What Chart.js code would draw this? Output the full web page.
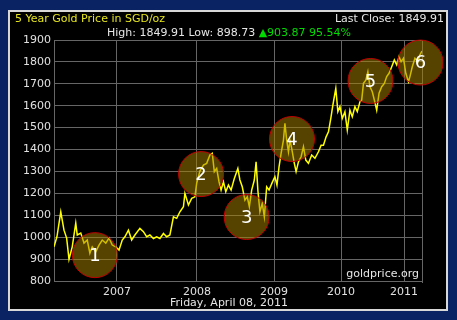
<!DOCTYPE html>
<html>
<head>
<meta charset="utf-8">
<script src="https://cdn.jsdelivr.net/npm/chart.js@4"></script>
<style>
	html, body { margin: 0; padding: 0; background: #0a2463; }
	#wrap { width: 457px; height: 320px; }
</style>
</head>
<body>
<div id="wrap"><canvas id="gold" width="457" height="320"></canvas></div>
<script>
// trading day index (from start of the 5 year window) and price in SGD/oz
const days = [0, 10, 23, 34, 43, 51, 62, 74, 79, 91, 102, 113, 122, 130, 142, 153, 164, 176, 187, 198,
	210, 221, 232, 241, 253, 264, 275, 292, 304, 315, 326, 338, 349, 360, 372, 383, 394, 406, 417, 428,
	440, 445, 457, 468, 479, 485, 496, 508, 519, 530, 538, 545, 553, 561, 568, 576, 584, 593, 602, 613,
	625, 632, 640, 649, 657, 664, 672, 681, 687, 693, 700, 708, 715, 723, 731, 742, 751, 758, 765, 772,
	780, 785, 791, 797, 802, 808, 817, 823, 831, 840, 848, 856, 865, 876, 887, 899, 908, 916, 925, 933,
	941, 948, 953, 958, 965, 972, 980, 989, 997, 1006, 1014, 1023, 1031, 1040, 1046, 1052, 1060, 1067, 1074, 1082,
	1089, 1097, 1105, 1114, 1123, 1131, 1139, 1148, 1157, 1165, 1173, 1180, 1188, 1196, 1205, 1210, 1218, 1227, 1237, 1244,
	1251];
const prices = [956, 1002, 1116, 1032, 996, 899, 956, 1064, 1010, 1019, 973, 987, 927, 956, 933, 964, 987, 973, 996, 964,
	956, 941, 987, 1002, 1032, 987, 1010, 1040, 1025, 1002, 1010, 994, 1002, 994, 1017, 1002, 1010, 1093, 1086, 1116,
	1139, 1200, 1147, 1177, 1184, 1246, 1302, 1329, 1337, 1375, 1383, 1299, 1314, 1253, 1215, 1253, 1207, 1238, 1215, 1268,
	1314, 1261, 1230, 1169, 1184, 1139, 1215, 1261, 1344, 1215, 1116, 1154, 1093, 1230, 1215, 1250, 1276, 1238, 1321, 1383,
	1443, 1520, 1443, 1390, 1443, 1405, 1337, 1299, 1344, 1367, 1413, 1352, 1337, 1375, 1360, 1390, 1420, 1420, 1458, 1481,
	1542, 1603, 1641, 1679, 1573, 1596, 1542, 1573, 1489, 1580, 1550, 1596, 1573, 1618, 1626, 1702, 1717, 1755, 1687, 1664,
	1626, 1580, 1657, 1687, 1702, 1733, 1748, 1778, 1809, 1786, 1824, 1801, 1817, 1748, 1710, 1733, 1778, 1817, 1801, 1832,
	1849.91];

const yearLabels = ['2007', '2008', '2009', '2010', '2011'];
const yearDays = [214, 486, 748, 976, 1190];

// numbered markers on the chart
const markerLabels = ['1', '2', '3', '4', '5', '6'];
const markerDays = [139, 500, 655, 809, 1076, 1246];
const markerPrices = [918, 1288, 1092, 1448, 1713, 1797];

const titleText = '5 Year Gold Price in SGD/oz';
const lastClose = 'Last Close: 1849.91';
const highLow = 'High: 1849.91 Low: 898.73 ';
const change = '\u25B2903.87 95.54%';
const dateText = 'Friday, April 08, 2011';
const sourceText = 'goldprice.org';

const FONT = '"DejaVu Sans", Verdana, sans-serif';

const frame = {
	id: 'frame',
	beforeDraw(chart) {
		const c = chart.ctx;
		c.save();
		c.fillStyle = '#0a2463';
		c.fillRect(0, 0, chart.width, chart.height);
		c.fillStyle = '#000';
		c.fillRect(8, 10, 440, 301);
		c.strokeStyle = '#d8d8d8';
		c.lineWidth = 2;
		c.strokeRect(9, 11, 438, 299);
		c.restore();
	},
	beforeDatasetsDraw(chart) {
		// plot border on the right side
		const c = chart.ctx;
		const a = chart.chartArea;
		c.save();
		c.strokeStyle = '#666';
		c.lineWidth = 1;
		c.beginPath();
		c.moveTo(Math.round(a.right) + 0.5, a.top);
		c.lineTo(Math.round(a.right) + 0.5, a.bottom + 2);
		c.stroke();
		c.restore();
	},
	afterDatasetsDraw(chart) {
		const c = chart.ctx;
		const meta = chart.getDatasetMeta(1);
		c.save();
		c.fillStyle = '#fff';
		c.font = '18px ' + FONT;
		c.textAlign = 'center';
		c.textBaseline = 'middle';
		meta.data.forEach(function (el, i) {
			c.fillText(markerLabels[i], el.x, el.y + 1);
		});
		c.restore();
	},
	afterDraw(chart) {
		const c = chart.ctx;
		const a = chart.chartArea;
		c.save();
		c.font = '11px ' + FONT;
		c.textBaseline = 'middle';
		c.textAlign = 'left';
		c.fillStyle = '#e6e61e';
		c.fillText(titleText, 15, 19);
		c.textAlign = 'right';
		c.fillStyle = '#e6e6e6';
		c.fillText(lastClose, 444, 19);

		const w1 = c.measureText(highLow).width;
		const w2 = c.measureText(change).width;
		let x0 = 229 - (w1 + w2) / 2;
		c.textAlign = 'left';
		c.fillStyle = '#e6e6e6';
		c.fillText(highLow, x0, 33);
		c.fillStyle = '#00dc00';
		c.fillText(change, x0 + w1, 33);

		c.textAlign = 'center';
		c.fillStyle = '#e6e6e6';
		c.fillText(dateText, 229, 303);

		c.textAlign = 'right';
		c.fillText(sourceText, a.right - 3, a.bottom - 7);
		c.restore();
	}
};

const ctx = document.getElementById('gold').getContext('2d');
const chart = new Chart(ctx, {
	type: 'line',
	data: {
		datasets: [
			{
				type: 'line',
				data: days.map(function (d, i) { return { x: d, y: prices[i] }; }),
				borderColor: '#ffff00',
				borderWidth: 1.5,
				pointRadius: 0,
				tension: 0,
				order: 1
			},
			{
				type: 'bubble',
				data: markerDays.map(function (d, i) { return { x: d, y: markerPrices[i] }; }),
				backgroundColor: 'rgba(165, 128, 0, 0.52)',
				borderColor: '#c00000',
				borderWidth: 1,
				radius: 22.5,
				hoverRadius: 0,
				clip: false,
				order: 0
			}
		]
	},
	plugins: [frame],
	options: {
		responsive: false,
		animation: false,
		events: [],
		layout: { padding: { left: 0, right: 35, top: 40, bottom: 0 } },
		plugins: {
			legend: { display: false },
			tooltip: { enabled: false }
		},
		scales: {
			x: {
				type: 'linear',
				min: 0,
				max: 1251,
				afterFit(scale) { scale.height = 39; },
				afterBuildTicks(scale) {
					scale.ticks = yearDays.map(function (v) { return { value: v }; });
				},
				ticks: {
					color: '#e0e0e0',
					font: { family: FONT, size: 11 },
					padding: 5,
					maxRotation: 0,
					autoSkip: false,
					callback(value) {
						const i = yearDays.indexOf(value);
						return i >= 0 ? yearLabels[i] : '';
					}
				},
				grid: { color: '#666', lineWidth: 1, drawTicks: false },
				border: { color: '#666' }
			},
			y: {
				min: 800,
				max: 1900,
				afterFit(scale) { scale.width = 54; },
				ticks: {
					stepSize: 100,
					color: '#e0e0e0',
					font: { family: FONT, size: 11 },
					padding: 3,
					callback(value) { return String(value); }
				},
				grid: { color: '#666', lineWidth: 1, drawTicks: false },
				border: { color: '#666' }
			}
		}
	}
});
</script>
</body>
</html>
